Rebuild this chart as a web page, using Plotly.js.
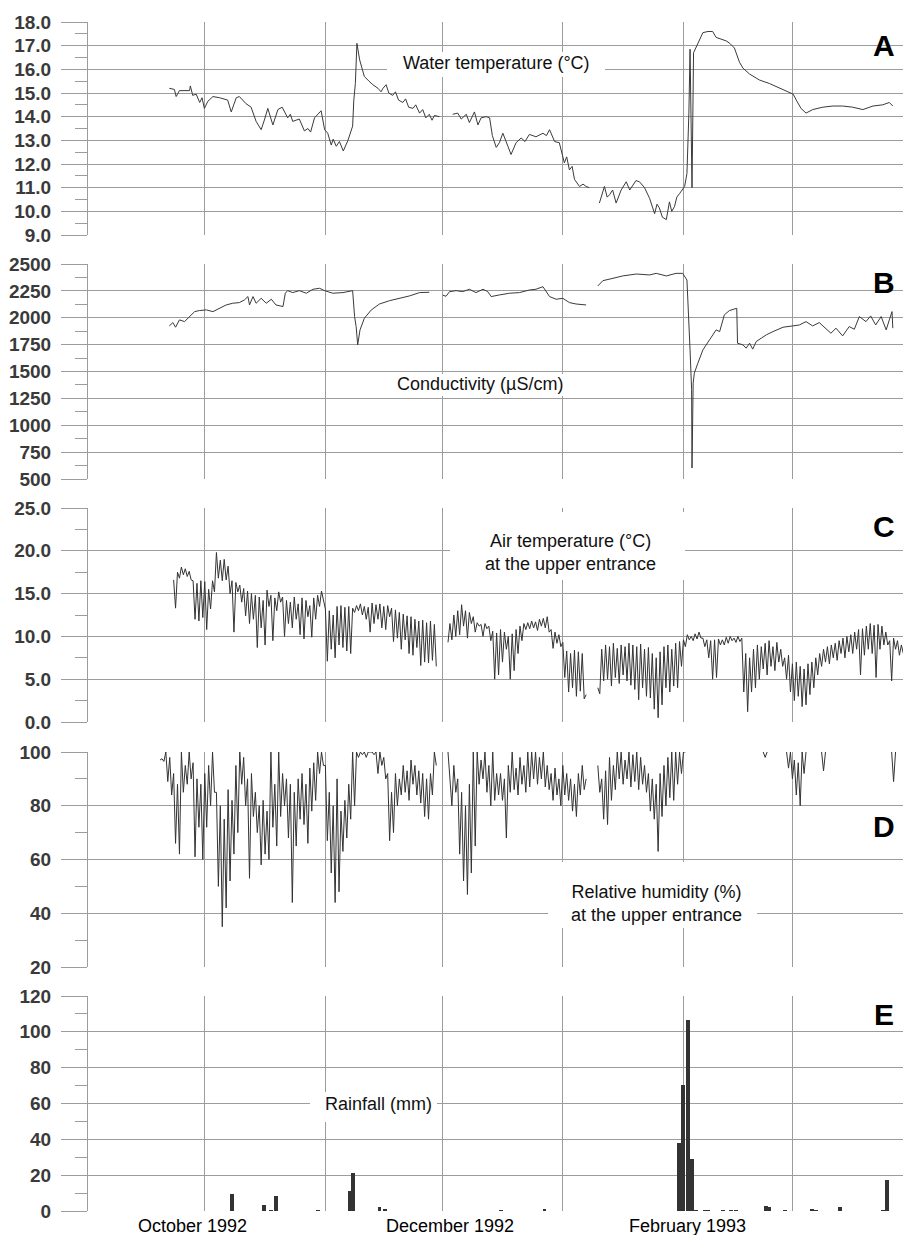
<!DOCTYPE html>
<html>
<head>
<meta charset="utf-8">
<script src="https://cdn.plot.ly/plotly-3.0.1.min.js"></script>
<style>
  html, body { margin: 0; padding: 0; background: #ffffff; }
  #chart { width: 903px; height: 1235px; }
</style>
</head>
<body>
<div id="chart"></div>
<script>
// ---------------- DATA (days counted from 1 September 1992) ----------------
// Panel A: water temperature (°C)
const waterDays = [
  20.9, 22.2, 22.65, 23.5, 26.1, 26.3, 26.9, 27.8, 28.7, 29.3,
  29.9, 30.8, 32.1, 33.8, 35.9, 36.8, 38.1, 38.9, 40.6, 41.9,
  43.2, 44.5, 45.4, 46.2, 47.5, 48.8, 49.9, 51.3, 52.0, 52.6,
  54.3, 55.6, 56.5, 57.2, 58.2, 59.9, 60.8, 61.6, 62.5, 63.0,
  63.8, 64.6, 65.6, 66.8, 68.0, 68.3, 68.7, 69.1, 69.8, 71.0,
  72.2, 73.2, 74.5, 75.3, 75.8, 76.6, 77.3, 78.3, 79.0, 79.8,
  80.9, 81.6, 82.4, 83.5, 84.2, 85.2, 86.0, 86.8, 87.7, 88.4,
  89.0, 90.3, 91.5, 93.7, 95.0, 95.9, 97.2, 98.0, 99.3, 100.2,
  101.0, 102.3, 103.2, 103.9, 104.9, 105.7, 106.6, 107.9, 108.7, 110.0,
  111.3, 112.3, 113.4, 115.1, 116.9, 117.8, 118.6, 119.9, 121.1, 122.4,
  123.0, 123.7, 124.4, 125.0, 126.3, 127.2, 128.0, 128.8, 130.0, 131.4,
  132.7, 133.4, 134.0, 134.8, 135.7, 137.0, 138.3, 139.2, 140.0, 140.8,
  141.7, 143.0, 144.3, 145.6, 146.2, 146.8, 147.6, 148.6, 149.4, 150.0,
  150.7, 151.3, 152.0, 153.3, 153.9, 154.4, 154.7, 155.2, 155.6, 156.7,
  158.0, 159.3, 160.5, 161.4, 164.0, 164.9, 166.1, 167.4, 168.3, 170.0,
  172.5, 175.1, 177.7, 180.3, 181.2, 182.0, 183.2, 184.5, 186.2, 188.8,
  191.4, 193.9, 196.5, 199.1, 201.7, 204.2, 205.9, 206.8
];
const waterTemp = [
  15.2, 15.15, 14.85, 15.1, 15.1, 15.3, 14.9, 14.95, 14.6, 14.8,
  14.35, 14.65, 14.85, 14.8, 14.7, 14.2, 14.8, 14.85, 14.55, 14.4,
  13.8, 13.45, 13.9, 14.35, 13.65, 14.3, 14.4, 13.95, 14.1, 13.8,
  13.9, 13.4, 13.5, 13.35, 13.95, 14.25, 13.45, 13.3, 12.8, 13.05,
  12.75, 12.95, 12.55, 13.0, 13.6, 14.7, 15.4, 17.1, 16.4, 15.7,
  15.5, 15.35, 15.2, 15.05, 15.2, 15.35, 15.0, 14.9, 15.05, 14.7,
  14.6, 14.75, 14.4, 14.35, 14.5, 14.15, 14.3, 13.95, 14.1, 13.85,
  14.05, 14.0, null, 14.1, 14.15, 13.9, 14.1, 13.75, 14.2, 13.65,
  13.95, 14.0, 13.95, 13.2, 12.7, 12.9, 13.3, 12.75, 12.4, 12.9,
  13.1, 12.95, 13.25, 13.15, 13.3, 13.2, 13.45, 12.95, 12.9, 12.05,
  12.3, 11.75, 11.9, 11.35, 11.05, 11.15, 11.05, 11.0, null, 10.35,
  11.05, 10.6, 10.7, 10.9, 10.35, 10.9, 11.25, 10.9, 11.1, 11.3,
  11.25, 11.0, 10.55, 9.9, 10.3, 10.15, 9.75, 9.65, 10.4, 10.0,
  10.2, 10.6, 10.75, 11.05, 11.6, 14.15, 16.85, 11.0, 16.7, 17.1,
  17.55, 17.6, 17.6, 17.35, 17.2, 17.1, 16.9, 16.3, 16.05, 15.8,
  15.55, 15.4, 15.2, 15.0, 14.95, 14.7, 14.35, 14.15, 14.3, 14.4,
  14.45, 14.45, 14.4, 14.3, 14.45, 14.5, 14.6, 14.45
];

// Panel B: conductivity (µS/cm)
const condDays = [
  20.9, 21.8, 22.5, 23.5, 24.8, 26.1, 27.4, 28.6, 30.4, 32.1,
  33.8, 35.5, 37.2, 38.9, 40.2, 41.1, 41.5, 42.4, 43.2, 44.5,
  45.8, 47.1, 48.3, 50.1, 50.7, 51.3, 52.6, 54.3, 56.1, 57.8,
  59.5, 60.8, 62.9, 65.5, 68.0, 68.5, 68.9, 69.3, 69.9, 71.0,
  72.8, 74.9, 77.5, 80.0, 82.6, 85.2, 87.7, 89.5, 91.2, 92.0,
  92.9, 94.6, 96.3, 98.0, 99.7, 101.5, 102.7, 103.6, 105.7, 108.3,
  110.9, 113.4, 115.1, 116.9, 118.6, 120.3, 122.0, 123.7, 125.4, 128.0,
  129.5, 131.0, 132.3, 134.9, 137.4, 140.9, 144.3, 146.0, 148.6, 151.1,
  152.8, 153.9, 154.4, 154.7, 155.1, 155.2, 155.5, 155.8, 156.7, 158.0,
  159.7, 161.4, 162.3, 163.5, 164.8, 166.7, 166.9, 168.3, 169.1, 170.0,
  170.8, 171.7, 173.0, 174.3, 176.0, 178.6, 181.1, 182.8, 184.5, 186.2,
  187.9, 189.6, 190.9, 192.2, 193.9, 195.6, 196.9, 198.2, 199.9, 201.1,
  202.4, 203.8, 205.1, 205.9, 206.6, 206.8
];
const condValues = [
  1924, 1955, 1912, 1980, 1964, 2011, 2057, 2067, 2073, 2057,
  2088, 2119, 2135, 2141, 2166, 2197, 2119, 2197, 2135, 2181,
  2135, 2172, 2119, 2104, 2228, 2252, 2234, 2252, 2228, 2265,
  2274, 2252, 2228, 2234, 2252, 2011, 1918, 1748, 1887, 1995,
  2073, 2128, 2159, 2181, 2203, 2234, 2237, null, 2209, 2200,
  2243, 2252, 2243, 2265, 2234, 2265, 2243, 2197, 2212, 2228,
  2234, 2258, 2265, 2289, 2197, 2172, 2181, 2141, 2128, 2119,
  null, 2296, 2345, 2367, 2389, 2407, 2398, 2413, 2389, 2413,
  2413, 2351, 2011, 1701, 1330, 602, 1392, 1485, 1577, 1701,
  1794, 1887, 1871, 2026, 2067, 2088, 1763, 1748, 1717, 1763,
  1708, 1779, 1810, 1841, 1871, 1912, 1924, 1933, 1964, 1924,
  1955, 1903, 1856, 1903, 1831, 1918, 1893, 2011, 1964, 2017,
  1933, 2011, 1887, 1980, 2057, 1903
];

// Panel C: air temperature at the upper entrance (°C), half-day readings, in segments
const airTempStarts = [22, 92.5, 131];
const airTempSeg1 = [
  16.6, 13.3, 17.5, 16.8, 18.1, 17.2, 17.9, 17.0, 17.6, 16.6,
  16.5, 12.0, 16.2, 11.8, 16.5, 12.2, 16.4, 10.8, 15.5, 13.2,
  16.5, 15.2, 19.8, 16.8, 18.9, 16.5, 19.0, 16.6, 18.2, 15.0,
  16.5, 10.5, 16.3, 15.2, 16.0, 14.0, 15.6, 12.4, 15.3, 11.5,
  15.0, 12.0, 14.8, 8.7, 14.6, 11.0, 14.2, 9.0, 15.4, 13.5,
  14.8, 9.5, 14.5, 13.0, 15.2, 14.0, 14.6, 10.0, 14.2, 11.5,
  14.0, 11.0, 14.6, 12.0, 13.8, 10.2, 14.5, 9.7, 14.2, 12.3,
  13.6, 9.9, 14.5, 12.0, 14.8, 13.5, 15.3, 14.4, 13.2, 7.1,
  13.0, 8.5, 12.5, 7.5, 13.5, 9.0, 13.6, 8.7, 13.4, 8.3,
  13.5, 8.0, 13.3, 12.8, 13.6, 13.0, 13.8, 12.5, 13.5, 12.0,
  13.4, 10.5, 13.9, 11.5, 13.7, 12.0, 13.8, 11.0, 13.5, 10.8,
  13.6, 12.3, 13.3, 9.4, 13.1, 9.8, 12.8, 8.5, 12.6, 9.6,
  12.4, 8.0, 12.3, 7.8, 12.0, 8.7, 11.8, 6.6, 11.9, 7.0,
  11.6, 6.9, 11.8, 7.2, 11.4, 6.5
];
const airTempSeg2 = [
  9.3,
  11.5, 9.6, 12.5, 10.0, 13.0, 10.2, 13.7, 11.2, 13.0, 9.8,
  12.8, 11.5, 12.3, 10.5, 11.6, 11.2, 11.4, 10.0, 11.5, 10.9,
  11.2, 9.5, 10.6, 5.0, 10.4, 5.5, 10.8, 7.0, 10.5, 8.5,
  10.0, 5.0, 10.3, 6.0, 10.8, 8.0, 11.2, 9.5, 11.5, 10.8,
  11.6, 10.9, 11.8, 11.0, 11.7, 10.7, 12.0, 11.2, 12.1, 11.0,
  12.3, 10.5, 10.8, 8.6, 10.5, 9.2, 10.2, 8.8, 9.3, 5.2,
  8.3, 3.5, 8.0, 4.0, 8.4, 3.0, 8.2, 3.6, 8.0, 2.7,
  3.2
];
const airTempSeg3 = [
  4.0, 3.3,
  8.5, 4.8, 9.0, 5.0, 8.8, 4.2, 9.2, 5.2, 8.6, 4.5,
  9.0, 5.5, 8.8, 4.8, 9.2, 4.3, 9.0, 3.8, 8.8, 2.6,
  9.1, 4.0, 8.5, 3.0, 8.7, 2.8, 8.0, 1.5, 7.5, 0.5,
  8.2, 2.0, 8.8, 4.0, 9.0, 3.5, 8.5, 4.2, 9.2, 4.0,
  9.4, 6.5, 9.6, 8.8, 10.2, 9.6, 10.0, 9.5, 10.3, 9.7,
  10.5, 9.8, 9.8, 8.8, 9.6, 7.5, 9.5, 5.0, 9.6, 5.2,
  9.7, 9.0, 9.6, 9.0, 9.9, 9.2, 10.0, 9.5, 9.8, 9.3,
  10.0, 9.4, 9.8, 3.5, 8.0, 1.2, 7.5, 3.5, 8.5, 4.0,
  9.0, 5.0, 8.8, 6.2, 9.2, 5.5, 9.5, 6.5, 8.8, 6.0,
  9.3, 7.0, 8.5, 6.5, 7.5, 5.0, 7.8, 3.5, 6.8, 2.5,
  7.0, 3.0, 6.5, 1.8, 6.2, 2.0, 6.8, 3.2, 7.0, 4.0,
  7.5, 5.5, 8.0, 6.5, 8.5, 7.0, 8.8, 6.8, 9.0, 7.5,
  9.2, 7.2, 9.5, 8.0, 9.8, 7.5, 10.0, 8.2, 10.2, 8.0,
  10.5, 8.5, 10.8, 5.5, 10.9, 7.8, 11.2, 8.5, 11.5, 8.0,
  11.3, 5.2, 11.4, 8.5, 11.2, 9.0, 10.5, 9.0, 9.5, 4.8,
  9.8, 8.5, 9.5, 7.8, 9.0, 8.0
];

// Panel D: relative humidity at the upper entrance (%), half-day readings, in segments
const humidityStarts = [18.5, 92.5, 131, 173.5, 179.5, 188.5, 206.5];
const humiditySeg1 = [
  97, 97.5, 96.5,
  100, 89, 98, 84, 92, 66, 88, 62, 100, 85, 95, 88, 100, 90,
  96, 61, 90, 72, 88, 60, 92, 72, 95, 80, 100, 85, 85, 50,
  80, 35, 75, 42, 86, 52, 82, 62, 95, 70, 100, 88, 98, 80,
  90, 53, 92, 76, 85, 70, 80, 58, 82, 62, 78, 60, 100, 72,
  88, 65, 100, 76, 92, 80, 90, 68, 88, 44, 85, 65, 90, 75,
  92, 73, 88, 66, 94, 78, 96, 82, 100, 92, 100, 95, 95, 67,
  85, 55, 80, 44, 90, 48, 78, 63, 82, 68, 88, 75, 100, 80,
  100, 98, 100, 99, 100, 98, 100, 100, 100, 99, 100, 92, 100, 95,
  98, 90, 92, 67, 85, 70, 92, 80, 90, 84, 95, 85, 93, 82,
  97, 88, 95, 84, 93, 81, 92, 76, 90, 75, 92, 84, 100, 95
];
const humiditySeg2 = [
  100,
  88, 80, 95, 85, 90, 62, 85, 52, 80, 47, 88, 55, 100, 65,
  100, 88, 97, 90, 100, 85, 95, 80, 100, 82, 92, 84, 92, 82,
  90, 68, 95, 85, 100, 86, 94, 84, 98, 88, 95, 85, 100, 87,
  100, 90, 100, 88, 98, 90, 100, 87, 95, 86, 92, 82, 94, 84,
  90, 80, 95, 84, 92, 82, 90, 78, 88, 76, 92, 84, 95, 86,
  90
];
const humiditySeg3 = [
  95, 85, 90, 75, 93, 73, 98, 82, 95, 86, 100, 90, 100, 88,
  97, 90, 100, 87, 99, 89, 100, 86, 98, 88, 95, 85, 92, 78,
  90, 75, 88, 63, 92, 76, 95, 80, 98, 83, 100, 82, 100, 88,
  100, 92, 100, 100
];
const humiditySeg4 = [100, 98, 100];
const humiditySeg5 = [100, 94, 100, 90, 97, 84, 96, 80, 100, 92, 100];
const humiditySeg6 = [100, 93, 100];
const humiditySeg7 = [100, 89, 100];

// Panel E: daily rainfall (mm)
const rainDays = [37.0, 45.2, 47.1, 48.2, 59.0, 67.4, 68.1, 74.9, 76.2, 106.2,
                  117.3, 151.9, 153.0, 154.1, 155.1, 156.3, 158.4, 159.3, 163.1, 165.3,
                  166.4, 174.1, 175.1, 179.2, 186.1, 187.1, 193.3, 204.3, 205.2];
const rainMm = [9.7, 3.5, 0.7, 8.2, 0.4, 11.0, 21.2, 2.2, 1.1, 0.3,
                1.0, 38.1, 70.5, 106.4, 29.2, 0.4, 0.7, 0.7, 0.4, 0.7,
                0.7, 2.6, 2.2, 0.7, 1.3, 0.6, 2.2, 0.3, 17.1];

// Axis tick labels / month labels
const monthStarts = ['1992-09-01', '1992-10-01', '1992-11-01', '1992-12-01',
                     '1993-01-01', '1993-02-01', '1993-03-01'];
const monthLabels = ['October 1992', 'December 1992', 'February 1993'];
const monthLabelDates = ['1992-09-27 18:00', '1992-12-02 22:00', '1993-02-01 22:00'];
const panelLetters = ['A', 'B', 'C', 'D', 'E'];
const panelTitles = ['Water temperature (°C)', 'Conductivity (µS/cm)',
                     'Air temperature (°C)<br>at the upper entrance',
                     'Relative humidity (%)<br>at the upper entrance', 'Rainfall (mm)'];

// ---------------- HELPERS ----------------
const DAY_MS = 86400000;
const BASE = Date.UTC(1992, 8, 1);
function dayToDate(d) {
  return new Date(BASE + d * DAY_MS).toISOString().slice(0, 19).replace('T', ' ');
}
function buildSegments(starts, segs, step) {
  const xs = [], ys = [];
  segs.forEach((seg, k) => {
    seg.forEach((v, i) => { xs.push(dayToDate(starts[k] + i * step)); ys.push(v); });
    xs.push(dayToDate(starts[k] + seg.length * step));
    ys.push(null);
  });
  return { x: xs, y: ys };
}

// plot area in pixels
const W = 903, H = 1235;
const PL = 88, PR = 903, PT = 22, PB = 1211;
const px = x => (x - PL) / (PR - PL);
const py = y => (PB - y) / (PB - PT);

const GRID = '#9c9c9c';
const LINE = '#3a3a3a';
const FONT = 'Liberation Sans, Arial, Helvetica, sans-serif';

// ---------------- TRACES ----------------
const air = buildSegments(airTempStarts, [airTempSeg1, airTempSeg2, airTempSeg3], 0.5);
const hum = buildSegments(humidityStarts,
  [humiditySeg1, humiditySeg2, humiditySeg3, humiditySeg4, humiditySeg5, humiditySeg6, humiditySeg7], 0.5);

const traces = [
  { type: 'scatter', mode: 'lines', x: waterDays.map(dayToDate), y: waterTemp,
    xaxis: 'x', yaxis: 'y', line: { color: LINE, width: 1 }, connectgaps: false, hoverinfo: 'skip' },
  { type: 'scatter', mode: 'lines', x: condDays.map(dayToDate), y: condValues,
    xaxis: 'x2', yaxis: 'y2', line: { color: LINE, width: 1 }, connectgaps: false, hoverinfo: 'skip' },
  { type: 'scatter', mode: 'lines', x: air.x, y: air.y,
    xaxis: 'x3', yaxis: 'y3', line: { color: '#333333', width: 1 }, connectgaps: false, hoverinfo: 'skip' },
  { type: 'scatter', mode: 'lines', x: hum.x, y: hum.y,
    xaxis: 'x4', yaxis: 'y4', line: { color: '#333333', width: 1 }, connectgaps: false, hoverinfo: 'skip' },
  { type: 'bar', x: rainDays.map(dayToDate), y: rainMm, width: rainDays.map(() => DAY_MS),
    xaxis: 'x5', yaxis: 'y5', marker: { color: '#333333', line: { width: 0 } }, hoverinfo: 'skip' }
];

// ---------------- LAYOUT ----------------
function xAxis(anchor, match) {
  const ax = {
    type: 'date', range: ['1992-09-01', '1993-03-29 10:00'],
    tickmode: 'array', tickvals: monthStarts, showticklabels: false, ticks: '',
    showgrid: true, gridcolor: GRID, gridwidth: 1, zeroline: false, showline: false,
    anchor: anchor, fixedrange: true
  };
  if (match) ax.matches = 'x';
  return ax;
}
function yAxis(domain, range, dtick, fmt, anchor) {
  return {
    domain: domain, range: range, tick0: range[0], dtick: dtick, tickformat: fmt,
    ticks: 'outside', ticklen: 26, tickwidth: 1, tickcolor: GRID,
    showgrid: true, gridcolor: GRID, gridwidth: 1, zeroline: false,
    showline: true, linecolor: GRID, linewidth: 1,
    tickfont: { family: FONT, size: 19, color: '#3a3a3a', weight: 700 },
    ticklabelstandoff: 6,
    minor: { dtick: dtick / 2, tick0: range[0], ticks: 'outside', ticklen: 12, tickwidth: 1,
             tickcolor: GRID, showgrid: false },
    anchor: anchor, fixedrange: true
  };
}

const letterY = [46, 283, 526, 826, 1014];
const annotations = [];
panelLetters.forEach((L, i) => {
  annotations.push({ xref: 'paper', yref: 'paper', x: px(884), y: py(letterY[i]),
    xanchor: 'center', yanchor: 'middle', text: L, showarrow: false,
    font: { family: FONT, size: 30, color: '#000000', weight: 700 } });
});
const titlePos = [[496, 63], [480, 384], [570, 552], [656, 903], [378, 1104]];
panelTitles.forEach((t, i) => {
  annotations.push({ xref: 'paper', yref: 'paper', x: px(titlePos[i][0]), y: py(titlePos[i][1]),
    xanchor: 'center', yanchor: 'middle', text: t, showarrow: false, align: 'center',
    font: { family: FONT, size: 18, color: '#111111' } });
});
monthLabels.forEach((t, i) => {
  annotations.push({ xref: 'x5', yref: 'paper', x: monthLabelDates[i], y: py(1226),
    xanchor: 'center', yanchor: 'middle', text: t, showarrow: false,
    font: { family: FONT, size: 18, color: '#000000' } });
});

// white boxes that interrupt the grid behind the panel titles
const boxes = [[387, 52, 605, 77], [386, 374, 572, 396], [450, 512, 685, 580],
               [548, 862, 757, 928], [310, 1092, 437, 1122]];
const shapes = boxes.map(b => ({
  type: 'rect', xref: 'paper', yref: 'paper', layer: 'above',
  x0: px(b[0]), x1: px(b[2]), y0: py(b[3]), y1: py(b[1]),
  fillcolor: '#ffffff', line: { width: 0 }
}));

const layout = {
  width: W, height: H,
  margin: { l: PL, r: W - PR, t: PT, b: H - PB, pad: 0 },
  paper_bgcolor: '#ffffff', plot_bgcolor: '#ffffff',
  showlegend: false, bargap: 0,
  font: { family: FONT },
  xaxis: xAxis('y', false),
  xaxis2: xAxis('y2', true),
  xaxis3: xAxis('y3', true),
  xaxis4: xAxis('y4', true),
  xaxis5: xAxis('y5', true),
  yaxis: yAxis([py(235), 1], [9, 18], 1, '.1f', 'x'),
  yaxis2: yAxis([py(479), py(264)], [500, 2500], 250, 'd', 'x2'),
  yaxis3: yAxis([py(722), py(508)], [0, 25], 5, '.1f', 'x3'),
  yaxis4: yAxis([py(967), py(752)], [20, 100], 20, 'd', 'x4'),
  yaxis5: yAxis([0, py(996)], [0, 120], 20, 'd', 'x5'),
  annotations: annotations,
  shapes: shapes
};

Plotly.newPlot('chart', traces, layout, { displayModeBar: false, staticPlot: true });
</script>
</body>
</html>
